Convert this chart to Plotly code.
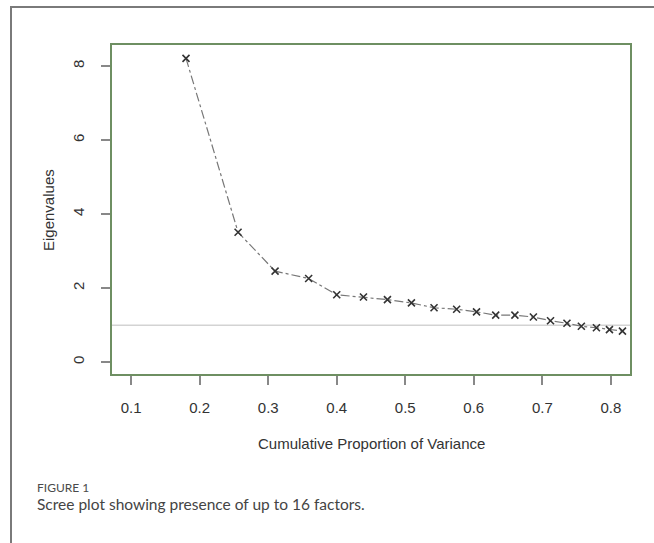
import plotly.graph_objects as go

# Data
cum_prop = [0.180, 0.256, 0.310, 0.359, 0.400, 0.439, 0.474, 0.509, 0.542, 0.575,
            0.604, 0.632, 0.660, 0.687, 0.712, 0.736, 0.757, 0.779, 0.798, 0.817]
eigenvalues = [8.21, 3.51, 2.46, 2.26, 1.82, 1.76, 1.69, 1.60, 1.47, 1.43,
               1.36, 1.27, 1.27, 1.22, 1.12, 1.05, 0.97, 0.93, 0.88, 0.84]
x_ticks = [0.1, 0.2, 0.3, 0.4, 0.5, 0.6, 0.7, 0.8]
y_ticks = [0, 2, 4, 6, 8]
ref_line = 1

W, H = 654, 543
L, R, T, B = 112, 24, 45, 169
pw, ph = W - L - R, H - T - B

def px(x):
    return (x - L) / pw

def py(y):
    return (H - B - y) / ph

fig = go.Figure()
fig.add_trace(go.Scatter(
    x=cum_prop, y=eigenvalues, mode="lines+markers",
    line=dict(color="#777777", width=1.2, dash="dashdot"),
    marker=dict(symbol="x-thin", size=7, line=dict(color="#333333", width=1.6)),
    showlegend=False, hoverinfo="skip"))

fig.add_shape(type="line", xref="x domain", yref="y", x0=0, x1=1, y0=ref_line, y1=ref_line,
              line=dict(color="#d3d3d3", width=1.5), layer="below")

# outer frame
fig.add_shape(type="rect", xref="paper", yref="paper",
              x0=px(11), x1=px(665), y0=py(555), y1=py(7),
              line=dict(color="#7a7a7a", width=2))

axis_font = dict(family="Liberation Sans, Arial", size=15, color="#333333")
fig.update_xaxes(range=[0.072, 0.828], tickvals=x_ticks, ticktext=[str(v) for v in x_ticks],
                 showgrid=False, zeroline=False, showline=True, mirror=True,
                 linecolor="#6e8f62", linewidth=2, ticks="outside", ticklen=9,
                 tickcolor="#888888", tickwidth=1.5, tickfont=axis_font, ticklabelstandoff=10)
fig.update_yaxes(range=[-0.32, 8.57], tickvals=y_ticks,
                 showgrid=False, zeroline=False, showline=True, mirror=True,
                 linecolor="#6e8f62", linewidth=2, ticks="outside", ticklen=9,
                 tickcolor="#888888", tickwidth=1.5, tickfont=axis_font, tickangle=-90,
                 ticklabelstandoff=11)

fig.add_annotation(text="Cumulative Proportion of Variance", xref="paper", yref="paper",
                   x=px(371), y=py(443), showarrow=False, xanchor="center", yanchor="middle",
                   font=dict(family="Liberation Sans, Arial", size=15, color="#333333"))
fig.add_annotation(text="Eigenvalues", xref="paper", yref="paper",
                   x=px(48), y=py(210), showarrow=False, xanchor="center", yanchor="middle",
                   textangle=-90,
                   font=dict(family="Liberation Sans, Arial", size=15, color="#333333"))
fig.add_annotation(text="FIGURE 1", xref="paper", yref="paper",
                   x=px(35), y=py(487), showarrow=False, xanchor="left", yanchor="middle",
                   font=dict(family="Lato", size=12, color="#4a4a4a"))
fig.add_annotation(text="Scree plot showing presence of up to 16 factors.", xref="paper", yref="paper",
                   x=px(35), y=py(504), showarrow=False, xanchor="left", yanchor="middle",
                   font=dict(family="Lato", size=15.5, color="#444444"))

fig.update_layout(width=W, height=H, margin=dict(l=L, r=R, t=T, b=B),
                  paper_bgcolor="white", plot_bgcolor="white")
fig.write_html("out.html", config={"displayModeBar": False},
               post_script="document.body.style.margin='0';")
